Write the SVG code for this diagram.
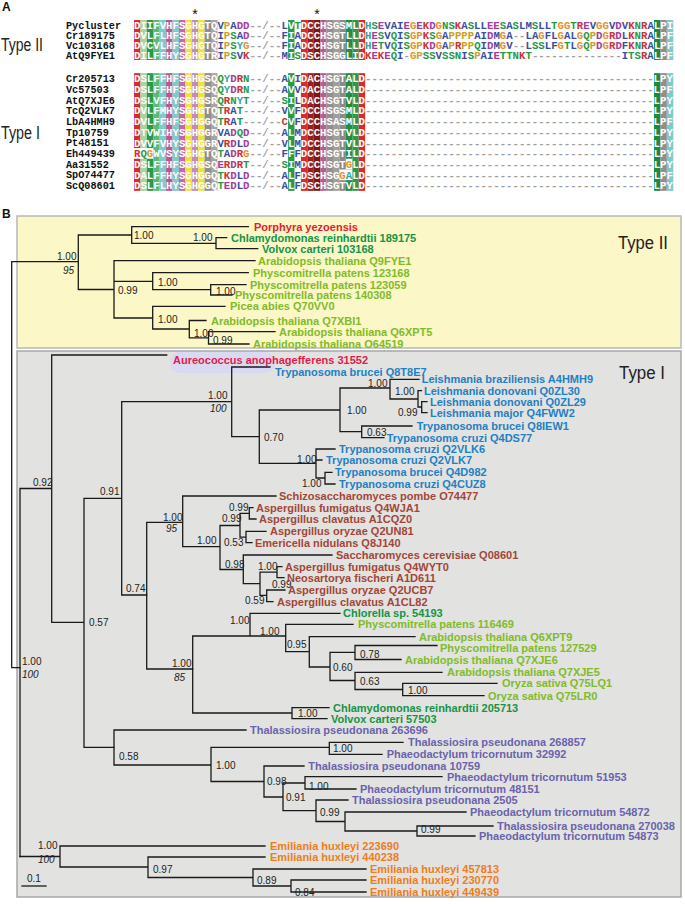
<svg xmlns="http://www.w3.org/2000/svg" width="685" height="904" viewBox="0 0 685 904">
<style>
.nm{font:bold 10.2px "Liberation Mono",monospace;fill:#111}
.sq{font:bold 10.7px "Liberation Mono",monospace}
.w{fill:#fff}.b{fill:#3a4ea0}.r{fill:#cc3333}.m{fill:#a33e9a}.g{fill:#279a48}.o{fill:#e8902a}.y{fill:#c9a227}.t{fill:#2ea3a8}.d{fill:#a0a0a0}
.tl{font:bold 11px "Liberation Sans",Arial,sans-serif}
.bs{font:10px "Liberation Sans",Arial,sans-serif;fill:#222}
.it{font-style:italic}
.br{stroke:#1a1a1a;stroke-width:1.3;fill:none;stroke-linecap:square}
.ty{font:18px "Liberation Sans",Arial,sans-serif;fill:#222}
.pl{font:bold 12px "Liberation Sans",Arial,sans-serif;fill:#111}
.cR{fill:#e4202e}.cDG{fill:#149447}.cLG{fill:#7fbc29}.cA{fill:#e31b4b}.cB{fill:#1f80c4}.cBr{fill:#a24638}.cP{fill:#6a62ad}.cO{fill:#ef7d1b}
</style>
<rect width="685" height="904" fill="#fff"/>
<!-- Panel A -->
<text class="pl" x="2" y="11">A</text>
<text x="195" y="19" font-family="Liberation Sans" font-size="14" text-anchor="middle" fill="#111">*</text>
<text x="317" y="19" font-family="Liberation Sans" font-size="14" text-anchor="middle" fill="#111">*</text>
<text class="ty" x="1" y="51" textLength="42" lengthAdjust="spacingAndGlyphs">Type II</text>
<text class="ty" x="1" y="139" textLength="39" lengthAdjust="spacingAndGlyphs">Type I</text>
<g id="alignment-shading">
<g id="shade2">
<rect x="134" y="20" width="6.42" height="40" fill="#d82c2c"/>
<rect x="140.42" y="20" width="6.42" height="40" fill="#a6d6a0"/>
<rect x="146.84" y="20" width="6.42" height="40" fill="#2a9a48"/>
<rect x="153.26" y="20" width="6.42" height="40" fill="#5fb87a"/>
<rect x="159.68" y="20" width="6.42" height="40" fill="#7ecbcb"/>
<rect x="166.1" y="20" width="6.42" height="40" fill="#b35a90"/>
<rect x="172.52" y="20" width="6.42" height="40" fill="#7ecbcb"/>
<rect x="178.94" y="20" width="6.42" height="40" fill="#c36aa6"/>
<rect x="185.36" y="20" width="6.42" height="40" fill="#f0e236"/>
<rect x="191.78" y="20" width="6.42" height="40" fill="#c08cb8"/>
<rect x="198.2" y="20" width="6.42" height="40" fill="#f0e236"/>
<rect x="204.62" y="20" width="6.42" height="40" fill="#8f8f8f"/>
<rect x="211.04" y="20" width="6.42" height="40" fill="#a5a5a5"/>
<rect x="288.08" y="20" width="6.42" height="40" fill="#2a9a48"/>
<rect x="300.92" y="20" width="6.42" height="40" fill="#d82c2c"/>
<rect x="307.34" y="20" width="6.42" height="40" fill="#9a1e1e"/>
<rect x="313.76" y="20" width="6.42" height="40" fill="#7c1515"/>
<rect x="320.18" y="20" width="6.42" height="40" fill="#b3608f"/>
<rect x="326.6" y="20" width="6.42" height="40" fill="#8f8f8f"/>
<rect x="333.02" y="20" width="6.42" height="40" fill="#9e9e9e"/>
<rect x="339.44" y="20" width="6.42" height="40" fill="#8a8a8a"/>
<rect x="345.86" y="20" width="6.42" height="40" fill="#2a8a40"/>
<rect x="352.28" y="20" width="6.42" height="40" fill="#2a9a48"/>
<rect x="358.7" y="20" width="6.42" height="40" fill="#d82c2c"/>
<rect x="654.02" y="20" width="6.42" height="40" fill="#1f8a3e"/>
<rect x="660.44" y="20" width="6.42" height="40" fill="#8f8f8f"/>
<rect x="666.86" y="20" width="6.42" height="40" fill="#7ecbcb"/>
</g>
<g id="shade1">
<rect x="134" y="73.15" width="6.42" height="117.7" fill="#d82c2c"/>
<rect x="140.42" y="73.15" width="6.42" height="117.7" fill="#a6d6a0"/>
<rect x="146.84" y="73.15" width="6.42" height="117.7" fill="#2a9a48"/>
<rect x="153.26" y="73.15" width="6.42" height="117.7" fill="#5fb87a"/>
<rect x="159.68" y="73.15" width="6.42" height="117.7" fill="#7ecbcb"/>
<rect x="166.1" y="73.15" width="6.42" height="117.7" fill="#b35a90"/>
<rect x="172.52" y="73.15" width="6.42" height="117.7" fill="#7ecbcb"/>
<rect x="178.94" y="73.15" width="6.42" height="117.7" fill="#c36aa6"/>
<rect x="185.36" y="73.15" width="6.42" height="117.7" fill="#f0e236"/>
<rect x="191.78" y="73.15" width="6.42" height="117.7" fill="#c08cb8"/>
<rect x="198.2" y="73.15" width="6.42" height="117.7" fill="#f0e236"/>
<rect x="204.62" y="73.15" width="6.42" height="117.7" fill="#8f8f8f"/>
<rect x="211.04" y="73.15" width="6.42" height="117.7" fill="#a5a5a5"/>
<rect x="288.08" y="73.15" width="6.42" height="117.7" fill="#2a9a48"/>
<rect x="300.92" y="73.15" width="6.42" height="117.7" fill="#d82c2c"/>
<rect x="307.34" y="73.15" width="6.42" height="117.7" fill="#9a1e1e"/>
<rect x="313.76" y="73.15" width="6.42" height="117.7" fill="#7c1515"/>
<rect x="320.18" y="73.15" width="6.42" height="117.7" fill="#b3608f"/>
<rect x="326.6" y="73.15" width="6.42" height="117.7" fill="#8f8f8f"/>
<rect x="333.02" y="73.15" width="6.42" height="117.7" fill="#9e9e9e"/>
<rect x="339.44" y="73.15" width="6.42" height="117.7" fill="#8a8a8a"/>
<rect x="345.86" y="73.15" width="6.42" height="117.7" fill="#2a8a40"/>
<rect x="352.28" y="73.15" width="6.42" height="117.7" fill="#2a9a48"/>
<rect x="358.7" y="73.15" width="6.42" height="117.7" fill="#d82c2c"/>
<rect x="654.02" y="73.15" width="6.42" height="117.7" fill="#1f8a3e"/>
<rect x="660.44" y="73.15" width="6.42" height="117.7" fill="#8f8f8f"/>
<rect x="666.86" y="73.15" width="6.42" height="117.7" fill="#7ecbcb"/>
</g>
<rect x="134" y="148.05" width="19.26" height="10.7" fill="#fff"/>
<rect x="345.86" y="158.75" width="6.42" height="10.7" fill="#fff"/>
<rect x="339.44" y="169.45" width="12.84" height="10.7" fill="#fff"/>
</g>
<g id="alignment-names" class="nm">
<text x="66" y="28.6">Pycluster</text>
<text x="66" y="38.6">Cr189175</text>
<text x="66" y="48.6">Vc103168</text>
<text x="66" y="58.6">AtQ9FYE1</text>
<text x="66" y="82.1">Cr205713</text>
<text x="66" y="92.8">Vc57503</text>
<text x="66" y="103.5">AtQ7XJE6</text>
<text x="66" y="114.2">TcQ2VLK7</text>
<text x="66" y="124.9">LbA4HMH9</text>
<text x="66" y="135.6">Tp10759</text>
<text x="66" y="146.3">Pt48151</text>
<text x="66" y="157">Eh449439</text>
<text x="66" y="167.7">Aa31552</text>
<text x="66" y="178.4">SpO74477</text>
<text x="66" y="189.1">ScQ08601</text>
</g>
<g id="alignment-seqs" class="sq">
<text y="28.8"><tspan x="134" class="w">DIIFVHFSGHGTQ</tspan><tspan class="b">V</tspan><tspan class="y">P</tspan><tspan class="b">A</tspan><tspan class="m">DD</tspan><tspan class="d">--/--</tspan><tspan class="b">L</tspan><tspan class="w">V</tspan><tspan class="g">T</tspan><tspan class="w">DCCHSGSMLD</tspan><tspan class="t">H</tspan><tspan class="g">S</tspan><tspan class="m">E</tspan><tspan class="b">VAI</tspan><tspan class="m">E</tspan><tspan class="o">G</tspan><tspan class="m">E</tspan><tspan class="r">K</tspan><tspan class="m">D</tspan><tspan class="o">G</tspan><tspan class="g">NS</tspan><tspan class="r">K</tspan><tspan class="b">A</tspan><tspan class="g">S</tspan><tspan class="b">LL</tspan><tspan class="m">EE</tspan><tspan class="g">S</tspan><tspan class="b">A</tspan><tspan class="g">S</tspan><tspan class="b">LM</tspan><tspan class="g">S</tspan><tspan class="b">LL</tspan><tspan class="g">T</tspan><tspan class="o">GG</tspan><tspan class="g">T</tspan><tspan class="r">R</tspan><tspan class="m">E</tspan><tspan class="b">V</tspan><tspan class="o">GG</tspan><tspan class="b">V</tspan><tspan class="m">D</tspan><tspan class="b">V</tspan><tspan class="r">K</tspan><tspan class="g">N</tspan><tspan class="r">R</tspan><tspan class="b">A</tspan><tspan class="w">LPI</tspan></text>
<text y="38.8"><tspan x="134" class="w">DVLFLHFSGHGTQ</tspan><tspan class="b">I</tspan><tspan class="y">P</tspan><tspan class="g">S</tspan><tspan class="b">A</tspan><tspan class="m">D</tspan><tspan class="d">--/--</tspan><tspan class="b">F</tspan><tspan class="w">I</tspan><tspan class="b">A</tspan><tspan class="w">DCCHSGTLLD</tspan><tspan class="t">H</tspan><tspan class="m">E</tspan><tspan class="g">S</tspan><tspan class="b">V</tspan><tspan class="g">Q</tspan><tspan class="b">I</tspan><tspan class="g">S</tspan><tspan class="o">G</tspan><tspan class="y">P</tspan><tspan class="r">K</tspan><tspan class="g">S</tspan><tspan class="o">G</tspan><tspan class="b">A</tspan><tspan class="y">PPPP</tspan><tspan class="b">AI</tspan><tspan class="m">D</tspan><tspan class="b">M</tspan><tspan class="o">G</tspan><tspan class="b">A</tspan><tspan class="d">--</tspan><tspan class="b">LA</tspan><tspan class="o">G</tspan><tspan class="b">FL</tspan><tspan class="o">G</tspan><tspan class="b">AL</tspan><tspan class="o">G</tspan><tspan class="g">Q</tspan><tspan class="y">P</tspan><tspan class="m">D</tspan><tspan class="o">G</tspan><tspan class="r">R</tspan><tspan class="m">D</tspan><tspan class="b">L</tspan><tspan class="r">K</tspan><tspan class="g">N</tspan><tspan class="r">R</tspan><tspan class="b">A</tspan><tspan class="w">LPF</tspan></text>
<text y="48.8"><tspan x="134" class="w">DVCVLHFSGHGTQ</tspan><tspan class="b">I</tspan><tspan class="y">P</tspan><tspan class="g">S</tspan><tspan class="t">Y</tspan><tspan class="o">G</tspan><tspan class="d">--/--</tspan><tspan class="b">F</tspan><tspan class="w">I</tspan><tspan class="b">A</tspan><tspan class="w">DCCHSGTLLD</tspan><tspan class="t">H</tspan><tspan class="m">E</tspan><tspan class="g">T</tspan><tspan class="b">V</tspan><tspan class="g">Q</tspan><tspan class="b">I</tspan><tspan class="g">S</tspan><tspan class="o">G</tspan><tspan class="y">P</tspan><tspan class="r">K</tspan><tspan class="m">D</tspan><tspan class="o">G</tspan><tspan class="b">A</tspan><tspan class="y">P</tspan><tspan class="r">R</tspan><tspan class="y">PP</tspan><tspan class="g">Q</tspan><tspan class="b">I</tspan><tspan class="m">D</tspan><tspan class="b">M</tspan><tspan class="o">G</tspan><tspan class="b">V</tspan><tspan class="d">--</tspan><tspan class="b">L</tspan><tspan class="g">SS</tspan><tspan class="b">LF</tspan><tspan class="o">G</tspan><tspan class="g">T</tspan><tspan class="b">L</tspan><tspan class="o">G</tspan><tspan class="g">Q</tspan><tspan class="y">P</tspan><tspan class="m">D</tspan><tspan class="o">G</tspan><tspan class="r">R</tspan><tspan class="m">D</tspan><tspan class="b">F</tspan><tspan class="r">K</tspan><tspan class="g">N</tspan><tspan class="r">R</tspan><tspan class="b">A</tspan><tspan class="w">LPF</tspan></text>
<text y="58.8"><tspan x="134" class="w">DILFFHYSGHGTR</tspan><tspan class="b">I</tspan><tspan class="y">P</tspan><tspan class="g">S</tspan><tspan class="b">V</tspan><tspan class="r">K</tspan><tspan class="d">--/--</tspan><tspan class="b">M</tspan><tspan class="w">I</tspan><tspan class="g">S</tspan><tspan class="w">DSCHSGGLID</tspan><tspan class="r">K</tspan><tspan class="m">E</tspan><tspan class="r">K</tspan><tspan class="m">E</tspan><tspan class="g">Q</tspan><tspan class="b">I</tspan><tspan class="d">-</tspan><tspan class="o">G</tspan><tspan class="y">P</tspan><tspan class="g">SS</tspan><tspan class="b">V</tspan><tspan class="g">SSN</tspan><tspan class="b">I</tspan><tspan class="g">S</tspan><tspan class="y">P</tspan><tspan class="b">AI</tspan><tspan class="m">E</tspan><tspan class="g">TTN</tspan><tspan class="r">K</tspan><tspan class="g">T</tspan><tspan class="d">--------------</tspan><tspan class="b">I</tspan><tspan class="g">TS</tspan><tspan class="r">R</tspan><tspan class="b">A</tspan><tspan class="w">LPF</tspan></text>
<text y="82.3"><tspan x="134" class="w">DSLFFHFSGHGSQ</tspan><tspan class="g">Q</tspan><tspan class="t">Y</tspan><tspan class="m">D</tspan><tspan class="r">R</tspan><tspan class="g">N</tspan><tspan class="d">--/--</tspan><tspan class="b">A</tspan><tspan class="w">V</tspan><tspan class="b">I</tspan><tspan class="w">DACHSGTALD</tspan><tspan class="d">---------------------------------------------</tspan><tspan class="w">LPY</tspan></text>
<text y="93"><tspan x="134" class="w">DSLFFHFSGHGSQ</tspan><tspan class="g">Q</tspan><tspan class="t">Y</tspan><tspan class="m">D</tspan><tspan class="r">R</tspan><tspan class="g">N</tspan><tspan class="d">--/--</tspan><tspan class="b">A</tspan><tspan class="w">V</tspan><tspan class="b">V</tspan><tspan class="w">DACHSGTALD</tspan><tspan class="d">---------------------------------------------</tspan><tspan class="w">LPF</tspan></text>
<text y="103.7"><tspan x="134" class="w">DSLVFHYSGHGSR</tspan><tspan class="g">Q</tspan><tspan class="r">R</tspan><tspan class="g">N</tspan><tspan class="t">Y</tspan><tspan class="g">T</tspan><tspan class="d">--/--</tspan><tspan class="g">S</tspan><tspan class="w">I</tspan><tspan class="b">L</tspan><tspan class="w">DACHSGTVLD</tspan><tspan class="d">---------------------------------------------</tspan><tspan class="w">LPY</tspan></text>
<text y="114.4"><tspan x="134" class="w">DVLFMHYSGHGTQ</tspan><tspan class="g">T</tspan><tspan class="r">R</tspan><tspan class="b">A</tspan><tspan class="g">T</tspan><tspan class="d">---/--</tspan><tspan class="b">V</tspan><tspan class="w">V</tspan><tspan class="b">F</tspan><tspan class="w">DCCHSGSMLD</tspan><tspan class="d">---------------------------------------------</tspan><tspan class="w">LPY</tspan></text>
<text y="125.1"><tspan x="134" class="w">DVLFFHFSGHGGQ</tspan><tspan class="g">T</tspan><tspan class="r">R</tspan><tspan class="b">A</tspan><tspan class="g">T</tspan><tspan class="d">---/--</tspan><tspan class="r">C</tspan><tspan class="w">V</tspan><tspan class="b">F</tspan><tspan class="w">DCCHSASMLD</tspan><tspan class="d">---------------------------------------------</tspan><tspan class="w">LPF</tspan></text>
<text y="135.8"><tspan x="134" class="w">DTVWIHYSGHGGR</tspan><tspan class="b">VA</tspan><tspan class="m">D</tspan><tspan class="g">Q</tspan><tspan class="m">D</tspan><tspan class="d">--/--</tspan><tspan class="b">A</tspan><tspan class="w">L</tspan><tspan class="b">M</tspan><tspan class="w">DCCHSGTVLD</tspan><tspan class="d">---------------------------------------------</tspan><tspan class="w">LPY</tspan></text>
<text y="146.5"><tspan x="134" class="w">DVVFVHYSGHGGR</tspan><tspan class="b">V</tspan><tspan class="r">R</tspan><tspan class="m">D</tspan><tspan class="b">L</tspan><tspan class="m">D</tspan><tspan class="d">--/--</tspan><tspan class="b">V</tspan><tspan class="w">L</tspan><tspan class="b">M</tspan><tspan class="w">DCCHSGTVLD</tspan><tspan class="d">---------------------------------------------</tspan><tspan class="w">LPY</tspan></text>
<text y="157.2"><tspan x="134" class="r">R</tspan><tspan class="g">Q</tspan><tspan class="o">G</tspan><tspan class="w">WVSYSGHGTQ</tspan><tspan class="g">T</tspan><tspan class="b">A</tspan><tspan class="m">D</tspan><tspan class="r">R</tspan><tspan class="o">G</tspan><tspan class="d">--/--</tspan><tspan class="b">F</tspan><tspan class="w">F</tspan><tspan class="b">F</tspan><tspan class="w">DCCHSGTILD</tspan><tspan class="d">---------------------------------------------</tspan><tspan class="w">LPY</tspan></text>
<text y="167.9"><tspan x="134" class="w">DSLFFHFSGHGSQ</tspan><tspan class="m">E</tspan><tspan class="r">R</tspan><tspan class="m">D</tspan><tspan class="r">R</tspan><tspan class="g">T</tspan><tspan class="d">--/--</tspan><tspan class="g">S</tspan><tspan class="w">I</tspan><tspan class="b">M</tspan><tspan class="w">DCCHSGT</tspan><tspan class="o">G</tspan><tspan class="w">LD</tspan><tspan class="d">---------------------------------------------</tspan><tspan class="w">LPY</tspan></text>
<text y="178.6"><tspan x="134" class="w">DALFFHYSGHGGQ</tspan><tspan class="g">T</tspan><tspan class="r">K</tspan><tspan class="m">D</tspan><tspan class="b">L</tspan><tspan class="m">D</tspan><tspan class="d">--/--</tspan><tspan class="b">A</tspan><tspan class="w">L</tspan><tspan class="b">F</tspan><tspan class="w">DSCHSG</tspan><tspan class="o">G</tspan><tspan class="t">A</tspan><tspan class="w">LD</tspan><tspan class="d">---------------------------------------------</tspan><tspan class="w">LPF</tspan></text>
<text y="189.3"><tspan x="134" class="w">DSLFLHYSGHGGQ</tspan><tspan class="g">T</tspan><tspan class="m">ED</tspan><tspan class="b">L</tspan><tspan class="m">D</tspan><tspan class="d">--/--</tspan><tspan class="b">A</tspan><tspan class="w">L</tspan><tspan class="b">F</tspan><tspan class="w">DSCHSGTVLD</tspan><tspan class="d">---------------------------------------------</tspan><tspan class="w">LPY</tspan></text>
</g>
<!-- Panel B -->
<text class="pl" x="2" y="218">B</text>
<rect x="17" y="216" width="664" height="132" fill="#fbf7c6" stroke="#b8b8b8" stroke-width="1.5"/>
<rect x="17" y="351" width="664" height="546" fill="#e2e2e0" stroke="#a8a8a8" stroke-width="1.5"/>
<rect x="170" y="352" width="105" height="21" rx="10" fill="#d9d9f2"/>
<text class="ty" x="618" y="249" textLength="50" lengthAdjust="spacingAndGlyphs">Type II</text>
<text class="ty" x="619" y="379" textLength="46" lengthAdjust="spacingAndGlyphs">Type I</text>
<g id="connectors">
<path class="br" d="M11.7 261.7V667.7M11.7 261.7H78.3M11.7 667.7H20
M78.3 235V289.5M78.3 235H131.7M78.3 289.5H114
M131.7 226.7V243.3M131.7 226.7H248.3M131.7 243.3H216
M216 237.7V248.7M216 237.7H226.7M216 248.7H257.7
M114 260.7V318M114 260.7H255M114 281.3H152.7M114 318H152.7
M152.7 272.7V289.7M152.7 272.7H248.3M152.7 289.7H210.7
M210.7 284.7V295M210.7 284.7H246M210.7 295H232
M152.7 306.3V329M152.7 306.3H225M152.7 329H189.3
M189.3 320.5V337.8M189.3 320.5H206M189.3 337.8H208.5
M208.5 331.7V344M208.5 331.7H275M208.5 344H249"/>
<path class="br" d="M20 488.5V856.5M20 488.5H51.7
M51.7 355V622.3M51.7 355H166.7M51.7 622.3H84
M84 498.3V747.3M84 498.3H121.7M84 747.3H114
M121.7 401.7V595M121.7 401.7H231.7M121.7 595H146.7
M231.7 367V436.7M231.7 367H270M231.7 436.7H259.3
M259.3 410V463.3M259.3 410H340M259.3 463.3H316
M340 388V431.7M340 388H390M340 431.7H361.7
M390 379.3V399M390 379.3H419M390 399H418
M418 390.7V407M418 390.7H421.5M418 407H421.7
M421.7 401.7V412.7M421.7 401.7H427M421.7 412.7H427
M361.7 426V437.7M361.7 426H412M361.7 437.7H384
M316 449V478M316 449H335M316 460H322M316 478H325
M325 472.3V484M325 472.3H332M325 484H335"/>
<path class="br" d="M146.7 522.3V669M146.7 522.3H182.7M146.7 669H192.7
M182.7 496V546.7M182.7 496H276M182.7 546.7H220
M220 525.5V569.5M220 525.5H240M220 569.5H243.3
M240 513.3V537.2M240 513.3H249.3M240 537.2H246
M249.3 507.7V519M249.3 507.7H253M249.3 519H256
M246 531.3V542.7M246 531.3H266M246 542.7H252
M243.3 555V583.7M243.3 555H332M243.3 583.7H260
M260 572.2V595.3M260 572.2H277M260 595.3H266.7
M277 566.7V577.7M277 566.7H282M277 577.7H284
M266.7 590V601.7M266.7 590H285M266.7 601.7H273"/>
<path class="br" d="M192.7 636V713M192.7 636H285.7
M250 613.3V636M250 613.3H340
M285.7 624.3V651.7M285.7 624.3H353M285.7 651.7H309.3
M309.3 636.7V667M309.3 636.7H415M309.3 667H330
M330 652.3V680.5M330 652.3H355M330 680.5H355
M355 645.5V659.5M355 645.5H437M355 659.5H401
M355 672.3V689.5M355 672.3H442M355 689.5H402.7
M402.7 683.3V695.7M402.7 683.3H497M402.7 695.7H484
M192.7 713H292
M292 707.7V718.7M292 707.7H329M292 718.7H327"/>
<path class="br" d="M114 730V765M114 730H246M114 765H211
M211 747.3V781.5M211 747.3H329.3M211 781.5H264
M329.3 742.3V754.3M329.3 742.3H403M329.3 754.3H382
M264 766V797M264 766H304M264 797H283
M283 783V810.7M283 783H305M283 810.7H316
M305 776.7V789M305 776.7H442M305 789H356
M316 800V821.5M316 800H348M316 821.5H345
M345 812V831M345 812H466M345 831H417
M417 826V836M417 826H493M417 836H475"/>
<path class="br" d="M20 856.5H60
M60 846V867M60 846H265M60 867H148
M148 857V877.5M148 857H265M148 877.5H253
M253 869V886M253 869H366M253 886H291
M291 880V892M291 880H366M291 892H366"/>
<path class="br" d="M22 886H46"/>
</g>
<g id="support-values" class="bs">
<text x="57" y="259.6">1.00</text><text x="63" y="273.6" class="it">95</text>
<text x="134" y="238.6">1.00</text>
<text x="193" y="241.3">1.00</text>
<text x="118" y="293.6">0.99</text>
<text x="158" y="285.6">1.00</text>
<text x="216" y="294.6">1.00</text>
<text x="158" y="322.6">1.00</text>
<text x="194" y="336.6">1.00</text>
<text x="213" y="344.3">0.99</text>
<text x="33" y="486.3">0.92</text>
<text x="22" y="665.3">1.00</text><text x="22" y="677.6" class="it">100</text>
<text x="100" y="495.3">0.91</text>
<text x="89" y="625.9">0.57</text>
<text x="208" y="398.6">1.00</text><text x="210" y="411.9" class="it">100</text>
<text x="264" y="440.9">0.70</text>
<text x="347" y="413.6">1.00</text>
<text x="368" y="386.9">1.00</text>
<text x="395" y="395.3">1.00</text>
<text x="398" y="416.3">0.99</text>
<text x="367" y="436.3">0.63</text>
<text x="297" y="462.6">1.00</text>
<text x="302" y="486.6">1.00</text>
<text x="126" y="591.9">0.74</text>
<text x="163" y="520.6">1.00</text><text x="166" y="531.9" class="it">95</text>
<text x="197" y="543.6">1.00</text>
<text x="222" y="521.6">0.99</text>
<text x="229" y="511.3">0.99</text>
<text x="224" y="546.3">0.53</text>
<text x="225" y="567.9">0.98</text>
<text x="258" y="570.3">1.00</text>
<text x="272" y="587.9">0.99</text>
<text x="245" y="604.1">0.59</text>
<text x="172" y="666.6">1.00</text><text x="174" y="680.6" class="it">85</text>
<text x="230" y="623.6">1.00</text>
<text x="260" y="635.3">1.00</text>
<text x="287" y="647.9">0.95</text>
<text x="333" y="671.3">0.60</text>
<text x="360" y="657.6">0.78</text>
<text x="360" y="685.3">0.63</text>
<text x="408" y="693.6">1.00</text>
<text x="298" y="716.6">1.00</text>
<text x="119" y="759.6">0.58</text>
<text x="216" y="768.6">1.00</text>
<text x="333" y="751.6">1.00</text>
<text x="267" y="784.6">0.98</text>
<text x="309" y="789.6">1.00</text>
<text x="286" y="800.6">0.91</text>
<text x="320" y="815.6">0.99</text>
<text x="421" y="832.6">0.99</text>
<text x="38" y="848.6">1.00</text><text x="38" y="862.6" class="it">100</text>
<text x="153" y="872.6">0.97</text>
<text x="257" y="883.6">0.89</text>
<text x="295" y="895.6">0.84</text>
<text x="27" y="882">0.1</text>
</g>
<g id="leaves" class="tl">
<g id="n-porphyra"><text class="cR" x="254" y="230.7">Porphyra yezoensis</text></g>
<g id="n-cr189175"><text class="cDG" x="231" y="241.7">Chlamydomonas reinhardtii 189175</text></g>
<g id="n-vc103168"><text class="cDG" x="262" y="252.7">Volvox carteri 103168</text></g>
<g id="n-q9fye1"><text class="cLG" x="258" y="264.7">Arabidopsis thaliana Q9FYE1</text></g>
<g id="n-pp123168"><text class="cLG" x="253" y="276.7">Physcomitrella patens 123168</text></g>
<g id="n-pp123059"><text class="cLG" x="250" y="288.7">Physcomitrella patens 123059</text></g>
<g id="n-pp140308"><text class="cLG" x="235" y="299">Physcomitrella patens 140308</text></g>
<g id="n-picea"><text class="cLG" x="230" y="310.3">Picea abies Q70VV0</text></g>
<g id="n-q7xbi1"><text class="cLG" x="211" y="324.5">Arabidopsis thaliana Q7XBI1</text></g>
<g id="n-q6xpt5"><text class="cLG" x="279" y="335.7">Arabidopsis thaliana Q6XPT5</text></g>
<g id="n-o64519"><text class="cLG" x="253" y="348">Arabidopsis thaliana O64519</text></g>
<g id="n-aureo"><text class="cA" x="173" y="364">Aureococcus anophagefferens 31552</text></g>
<g id="n-q8t8e7"><text class="cB" x="275" y="375.5">Trypanosoma brucei Q8T8E7</text></g>
<g id="n-a4hmh9"><text class="cB" x="421.7" y="383.3">Leishmania braziliensis A4HMH9</text></g>
<g id="n-q0zl30"><text class="cB" x="424" y="394.7">Leishmania donovani Q0ZL30</text></g>
<g id="n-q0zl29"><text class="cB" x="430" y="405.7">Leishmania donovani Q0ZL29</text></g>
<g id="n-q4fww2"><text class="cB" x="430" y="416.7">Leishmania major Q4FWW2</text></g>
<g id="n-q8iew1"><text class="cB" x="416.7" y="430">Trypanosoma brucei Q8IEW1</text></g>
<g id="n-q4ds77"><text class="cB" x="386.7" y="441.7">Trypanosoma cruzi Q4DS77</text></g>
<g id="n-q2vlk6"><text class="cB" x="339" y="453">Trypanosoma cruzi Q2VLK6</text></g>
<g id="n-q2vlk7"><text class="cB" x="326" y="464">Trypanosoma cruzi Q2VLK7</text></g>
<g id="n-q4d982"><text class="cB" x="335" y="476.3">Trypanosoma brucei Q4D982</text></g>
<g id="n-q4cuz8"><text class="cB" x="339" y="488">Trypanosoma cruzi Q4CUZ8</text></g>
<g id="n-o74477"><text class="cBr" x="279" y="500">Schizosaccharomyces pombe O74477</text></g>
<g id="n-q4wja1"><text class="cBr" x="256" y="511.7">Aspergillus fumigatus Q4WJA1</text></g>
<g id="n-a1cqz0"><text class="cBr" x="259" y="523">Aspergillus clavatus A1CQZ0</text></g>
<g id="n-q2un81"><text class="cBr" x="270" y="535.3">Aspergillus oryzae Q2UN81</text></g>
<g id="n-q8j140"><text class="cBr" x="255" y="546.7">Emericella nidulans Q8J140</text></g>
<g id="n-q08601"><text class="cBr" x="336" y="559">Saccharomyces cerevisiae Q08601</text></g>
<g id="n-q4wyt0"><text class="cBr" x="285" y="570.7">Aspergillus fumigatus Q4WYT0</text></g>
<g id="n-a1d611"><text class="cBr" x="287" y="581.7">Neosartorya fischeri A1D611</text></g>
<g id="n-q2ucb7"><text class="cBr" x="288" y="594">Aspergillus oryzae Q2UCB7</text></g>
<g id="n-a1cl82"><text class="cBr" x="277" y="605.7">Aspergillus clavatus A1CL82</text></g>
<g id="n-chlorella"><text class="cDG" x="343" y="617.3">Chlorella sp. 54193</text></g>
<g id="n-pp116469"><text class="cLG" x="358" y="628.3">Physcomitrella patens 116469</text></g>
<g id="n-q6xpt9"><text class="cLG" x="419" y="640.7">Arabidopsis thaliana Q6XPT9</text></g>
<g id="n-pp127529"><text class="cLG" x="440" y="652">Physcomitrella patens 127529</text></g>
<g id="n-q7xje6"><text class="cLG" x="405" y="663.7">Arabidopsis thaliana Q7XJE6</text></g>
<g id="n-q7xje5"><text class="cLG" x="447" y="676.3">Arabidopsis thaliana Q7XJE5</text></g>
<g id="n-q75lq1"><text class="cLG" x="502" y="687.3">Oryza sativa Q75LQ1</text></g>
<g id="n-q75lr0"><text class="cLG" x="488" y="699.7">Oryza sativa Q75LR0</text></g>
<g id="n-cr205713"><text class="cDG" x="333" y="711.7">Chlamydomonas reinhardtii 205713</text></g>
<g id="n-vc57503"><text class="cDG" x="331" y="722.7">Volvox carteri 57503</text></g>
<g id="n-tp263696"><text class="cP" x="250" y="734">Thalassiosira pseudonana 263696</text></g>
<g id="n-tp268857"><text class="cP" x="408" y="746.3">Thalassiosira pseudonana 268857</text></g>
<g id="n-pt32992"><text class="cP" x="386.7" y="758.3">Phaeodactylum tricornutum 32992</text></g>
<g id="n-tp10759"><text class="cP" x="308.3" y="770">Thalassiosira pseudonana 10759</text></g>
<g id="n-pt51953"><text class="cP" x="447" y="780.7">Phaeodactylum tricornutum 51953</text></g>
<g id="n-pt48151"><text class="cP" x="360" y="793">Phaeodactylum tricornutum 48151</text></g>
<g id="n-tp2505"><text class="cP" x="352" y="804">Thalassiosira pseudonana 2505</text></g>
<g id="n-pt54872"><text class="cP" x="470" y="816">Phaeodactylum tricornutum 54872</text></g>
<g id="n-tp270038"><text class="cP" x="497" y="830">Thalassiosira pseudonana 270038</text></g>
<g id="n-pt54873"><text class="cP" x="479" y="840">Phaeodactylum tricornutum 54873</text></g>
<g id="n-eh223690"><text class="cO" x="270" y="850">Emiliania huxleyi 223690</text></g>
<g id="n-eh440238"><text class="cO" x="270" y="861">Emiliania huxleyi 440238</text></g>
<g id="n-eh457813"><text class="cO" x="370" y="873">Emiliania huxleyi 457813</text></g>
<g id="n-eh230770"><text class="cO" x="370" y="884">Emiliania huxleyi 230770</text></g>
<g id="n-eh449439"><text class="cO" x="370" y="896">Emiliania huxleyi 449439</text></g>
</g>
</svg>
